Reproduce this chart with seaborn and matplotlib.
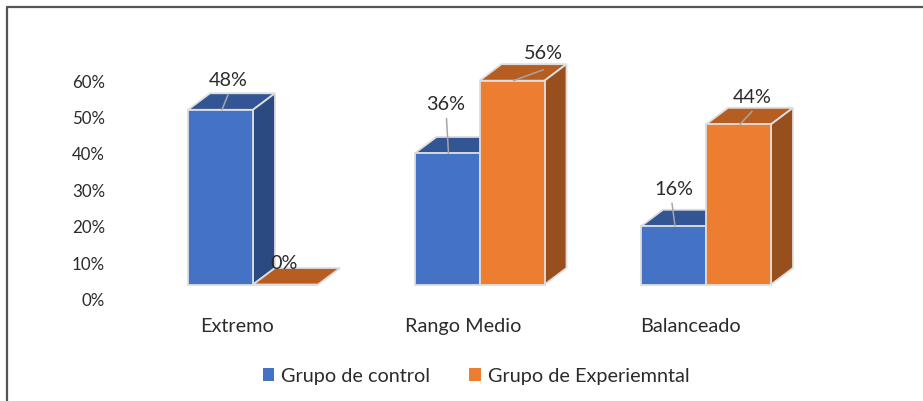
import matplotlib
matplotlib.use("Agg")
import matplotlib.pyplot as plt
import pandas as pd
import seaborn as sns
from matplotlib.lines import Line2D
from matplotlib.patches import Polygon
from matplotlib.ticker import PercentFormatter
from matplotlib.transforms import Affine2D

categories = ["Extremo", "Rango Medio", "Balanceado"]
control = [48, 36, 16]
experimental = [0, 56, 44]
series_names = ["Grupo de control", "Grupo de Experiemntal"]
y_ticks = [0, 10, 20, 30, 40, 50, 60]

front_colors = ["#4472C4", "#ED7D31"]
top_colors = ["#335593", "#B65E22"]
side_colors = ["#2B4A82", "#974F1E"]
edge_color = "#DEDEDE"
text_color = "#2B2B2B"

W, H = 923, 402
sns.set_theme(style="white")
plt.rcParams["font.family"] = ["Lato", "DejaVu Sans"]
fig = plt.figure(figsize=(W / 100, H / 100), dpi=100, facecolor="white")

# axes placement in pixels: zero line at 285.5, 3.64 px per percentage point
left, right, base, top = 110, 880, 285.5, 48.9
ax = fig.add_axes([left / W, 1 - base / H, (right - left) / W, (base - top) / H])
px_per_unit = 226.5
bar_px = 65.0
center0 = 253.0

df = pd.DataFrame({
    "cat": categories * 2,
    "val": control + experimental,
    "grupo": [series_names[0]] * 3 + [series_names[1]] * 3,
})
sns.barplot(data=df, x="cat", y="val", hue="grupo", palette=front_colors, saturation=1,
            width=2 * bar_px / px_per_unit, gap=0, edgecolor=edge_color, linewidth=1.3, ax=ax)

ax.set_xlim((left - center0) / px_per_unit, (right - center0) / px_per_unit)
ax.set_ylim(0, (base - top) / 3.64)
ax.set_xlabel("")
ax.set_ylabel("")
sns.despine(ax=ax, left=True, bottom=True)

# oblique depth of the pseudo-3D boxes
dx = 22 / px_per_unit
dy = 16.5 / 3.64
for s, container in enumerate(ax.containers):
    z = 2 + 2 * s
    for bar in container:
        bar.set_zorder(z + 1)
        bar.set_clip_on(False)
        x0, w, h = bar.get_x(), bar.get_width(), bar.get_height()
        x1 = x0 + w
        ax.add_patch(Polygon([(x0, h), (x1, h), (x1 + dx, h + dy), (x0 + dx, h + dy)],
                             facecolor=top_colors[s], edgecolor=edge_color, lw=1.3,
                             zorder=z, clip_on=False))
        if h > 0:
            ax.add_patch(Polygon([(x1, 0), (x1 + dx, dy), (x1 + dx, h + dy), (x1, h)],
                                 facecolor=side_colors[s], edgecolor=edge_color, lw=1.3,
                                 zorder=z, clip_on=False))

# data labels, placed relative to each bar in pixels
label_offsets = [[(7.5, 30), (-1.5, 50), (0, 38)], [(-1.5, 22), (31.5, 28), (13.5, 28)]]
leader_offsets = [[(6, 15), (-2, 35), (-3, 23)], [None, (30, 11), (12, 13)]]
label_size = 14.3
for s, container in enumerate(ax.containers):
    for i, bar in enumerate(container):
        cx = bar.get_x() + bar.get_width() / 2
        v = bar.get_height()
        ax.annotate(f"{v:.0f}%", xy=(cx, v), xytext=label_offsets[s][i],
                    textcoords="offset pixels", ha="center", va="center",
                    fontsize=label_size, color=text_color, zorder=10, annotation_clip=False)
        if leader_offsets[s][i] is not None:
            ax.annotate("", xy=(cx + 1.5 / px_per_unit, v), xytext=leader_offsets[s][i],
                        textcoords="offset pixels", annotation_clip=False, zorder=9,
                        arrowprops=dict(arrowstyle="-", color="#A6A6A6", lw=1.1,
                                        shrinkA=0, shrinkB=0))

# axis labels
ax.set_yticks(y_ticks)
ax.yaxis.set_major_formatter(PercentFormatter(decimals=0))
ax.tick_params(axis="y", length=0, pad=3.6, labelsize=12.2, labelcolor=text_color)
ax.tick_params(axis="x", length=0, pad=23.5, labelsize=label_size, labelcolor=text_color)
for lab in ax.get_yticklabels():
    lab.set_transform(lab.get_transform() + Affine2D().translate(0, -14))
for lab in ax.get_xticklabels():
    lab.set_transform(lab.get_transform() + Affine2D().translate(-16, 0))

sns.move_legend(ax, "center", bbox_to_anchor=(476 / W, 1 - 377 / H),
                bbox_transform=fig.transFigure, ncol=2, frameon=False, title=None,
                fontsize=label_size, handlelength=0.58, handleheight=0.58, handletextpad=0.36,
                columnspacing=1.95, labelcolor=text_color)
for handle in ax.get_legend().legend_handles:
    handle.set_edgecolor("none")

# outer frame of the screenshot
frame = dict(color="#555555", lw=1.6, transform=fig.transFigure)
fig.add_artist(Line2D([6.5 / W, 1], [1 - 8 / H, 1 - 8 / H], **frame))
fig.add_artist(Line2D([6.5 / W, 6.5 / W], [0, 1 - 8 / H], **frame))

fig.savefig("out.png", dpi=100, facecolor="white")
